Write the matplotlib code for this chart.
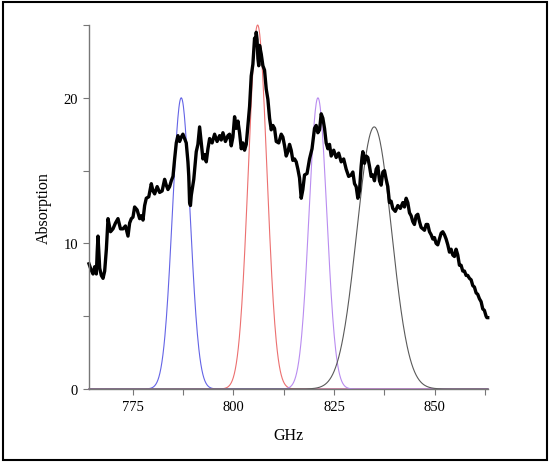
import numpy as np
import matplotlib
matplotlib.use("Agg")
import matplotlib.pyplot as plt
from matplotlib.patches import Rectangle
from matplotlib.ticker import MultipleLocator

freq = [764.06, 765.06, 765.89, 766.30, 767.13, 767.96, 768.79, 770.03, 771.27, 772.51,
        773.76, 774.59, 775.41, 776.66, 777.49, 778.31, 779.56, 780.39, 781.63, 782.87,
        783.70, 784.53, 785.36, 786.18, 787.01, 787.84, 788.67, 789.08, 789.50, 790.74,
        791.57, 792.40, 793.23, 794.06, 795.30, 796.54, 797.37, 798.61, 799.44, 800.27,
        801.10, 801.93, 802.75, 803.58, 804.41, 805.24, 805.65, 806.07, 806.48, 807.31,
        808.14, 808.97, 809.80, 810.63, 811.87, 812.70, 813.53, 814.35, 815.18, 816.01,
        816.84, 817.67, 818.91, 820.15, 820.98, 821.81, 822.64, 823.47, 824.30, 825.54,
        826.78, 828.02, 829.27, 830.10, 830.92, 831.75, 832.17, 833.00, 833.82, 834.65,
        835.48, 836.31, 837.14, 837.97, 838.79, 839.62, 840.87, 842.11, 842.94, 843.77,
        844.59, 845.42, 846.25, 847.08, 847.91, 848.74, 849.57, 850.39, 851.22, 852.05,
        852.88, 853.71, 854.54, 855.36, 856.19, 857.02, 857.85, 858.68, 859.51, 860.34,
        861.16, 861.99, 862.82, 863.23]
absorb = [8.6, 7.9, 7.9, 10.5, 7.8, 8.1, 11.7, 11.0, 11.7, 11.0,
          10.5, 11.7, 12.5, 11.7, 11.6, 13.1, 14.1, 13.4, 13.5, 14.4,
          13.7, 14.3, 15.8, 17.4, 17.3, 17.2, 15.6, 12.8, 13.3, 16.3,
          18.0, 15.8, 15.6, 17.2, 17.5, 17.4, 17.6, 17.4, 16.7, 18.7,
          18.4, 16.5, 16.4, 18.1, 21.5, 24.1, 24.5, 22.7, 23.6, 22.2,
          20.6, 18.6, 18.1, 17.0, 17.5, 16.7, 16.3, 16.4, 15.8, 15.1,
          13.1, 14.7, 15.8, 17.9, 17.6, 18.9, 17.9, 16.5, 16.0, 15.9,
          15.6, 15.1, 14.7, 14.1, 13.1, 15.3, 16.3, 16.0, 15.3, 14.7,
          15.1, 14.3, 14.9, 14.4, 12.8, 12.4, 12.6, 12.8, 13.1, 12.1,
          11.5, 11.9, 11.5, 11.0, 11.3, 10.8, 10.3, 10.0, 10.3, 10.8,
          10.3, 9.4, 9.2, 9.6, 8.5, 8.1, 7.8, 7.6, 7.1, 6.6,
          6.2, 5.5, 5.0, 4.9]

# in-between samples of the same trace (the noisy wiggles)
freq_mid = [764.56, 765.48, 766.10, 766.72, 767.55, 768.38, 769.41, 770.65, 771.89, 773.13,
            774.17, 775.00, 776.03, 777.07, 777.90, 778.93, 779.97, 781.01, 782.25, 783.28,
            784.11, 784.95, 785.77, 786.60, 787.42, 788.25, 788.88, 789.29, 790.12, 791.15,
            791.98, 792.81, 793.64, 794.68, 795.92, 796.95, 797.99, 799.02, 799.85, 800.68,
            801.51, 802.34, 803.17, 804.00, 804.82, 805.45, 805.86, 806.28, 806.90, 807.72,
            808.55, 809.38, 810.21, 811.25, 812.28, 813.11, 813.94, 814.76, 815.60, 816.42,
            817.25, 818.29, 819.53, 820.56, 821.40, 822.22, 823.05, 823.88, 824.92, 826.16,
            827.40, 828.64, 829.68, 830.51, 831.33, 831.96, 832.58, 833.41, 834.23, 835.06,
            835.90, 836.72, 837.55, 838.38, 839.20, 840.24, 841.49, 842.52, 843.35, 844.18,
            845.00, 845.84, 846.66, 847.50, 848.32, 849.15, 849.98, 850.80, 851.64, 852.46,
            853.30, 854.12, 854.95, 855.78, 856.60, 857.44, 858.26, 859.10, 859.92, 860.75,
            861.58, 862.40, 863.02]
absorb_mid = [8.2, 8.4, 9.4, 8.3, 7.6, 9.6, 10.8, 11.4, 11.0, 11.2,
              11.4, 11.8, 12.3, 11.9, 12.6, 13.2, 13.6, 13.9, 13.6, 14.0,
              13.9, 14.6, 16.9, 17.0, 17.5, 16.9, 14.6, 12.6, 14.4, 16.8,
              16.9, 16.1, 16.5, 16.9, 17.0, 17.1, 17.0, 17.5, 17.3, 17.9,
              17.6, 16.9, 16.8, 19.4, 22.3, 23.6, 24.0, 22.2, 23.0, 21.9,
              19.9, 17.8, 17.9, 16.9, 17.3, 16.0, 16.8, 15.7, 15.6, 14.5,
              13.7, 14.8, 16.5, 18.1, 17.8, 18.6, 16.9, 16.8, 16.4, 16.2,
              15.8, 14.6, 14.9, 13.9, 13.6, 15.9, 15.5, 15.9, 14.6, 14.3,
              15.3, 14.0, 15.0, 13.9, 12.9, 12.2, 12.4, 12.5, 12.8, 11.9,
              11.3, 12.0, 11.1, 10.9, 11.3, 10.6, 10.4, 9.9, 10.7, 10.6,
              9.9, 9.6, 9.1, 9.2, 8.5, 8.1, 7.8, 7.5, 7.0, 6.5,
              6.0, 5.4, 4.9]

# gaussian components: centre (GHz), height, width (sigma)
g_centre = [787.0, 806.0, 821.0, 835.0]
g_height = [20.0, 25.0, 20.0, 18.0]
g_sigma = [2.2, 2.3, 2.2, 4.3]
g_color = ["#6464e6", "#ec7070", "#b98cf0", "#5a5a5a"]

# merge both sample sets along the frequency axis
f_all = np.array(freq + freq_mid)
a_all = np.array(absorb + absorb_mid)
order = np.argsort(f_all)
f_all, a_all = f_all[order], a_all[order]

fig = plt.figure(figsize=(5.5, 4.64), dpi=100)
ax = fig.add_axes([0.1618, 0.1595, 0.7255, 0.7845])

xs = np.linspace(764.06, 863.3, 800)
for c, h, s, col in zip(g_centre, g_height, g_sigma, g_color):
    ax.plot(xs, h * np.exp(-0.5 * ((xs - c) / s) ** 2), color=col, lw=0.8, clip_on=False)

ax.plot(f_all, a_all, color="black", lw=2.4, clip_on=False)

ax.set_xlim(764.06, 863.3)
ax.set_ylim(0, 25)
ax.xaxis.set_major_locator(MultipleLocator(25))
ax.xaxis.set_minor_locator(MultipleLocator(12.5))
ax.yaxis.set_major_locator(MultipleLocator(10))
ax.yaxis.set_minor_locator(MultipleLocator(5))

for side in ["top", "right"]:
    ax.spines[side].set_visible(False)
for side in ["left", "bottom"]:
    ax.spines[side].set_color("#777777")
    ax.spines[side].set_linewidth(1.0)

serif = "Liberation Serif"
ax.tick_params(which="both", direction="out", length=4, color="#777777", width=0.8,
               labelsize=10.5, pad=4)
for lab in ax.get_xticklabels() + ax.get_yticklabels():
    lab.set_family(serif)

ax.set_xlabel("GHz", family=serif, fontsize=11.5, labelpad=10)
ax.set_ylabel("Absorption", family=serif, fontsize=11.5, labelpad=8)

fig.patches.append(Rectangle((0.006, 0.006), 0.988, 0.988, transform=fig.transFigure,
                             fill=False, edgecolor="black", lw=1.5))

fig.savefig("out.png", dpi=100)
